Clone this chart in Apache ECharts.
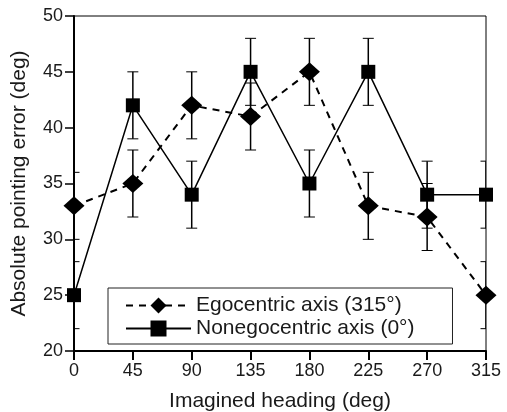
<!DOCTYPE html>
<html>
<head>
<meta charset="utf-8">
<script src="https://cdn.jsdelivr.net/npm/echarts@6/dist/echarts.min.js"></script>
<style>
  html, body { margin: 0; padding: 0; background: #fff; }
  #chart { width: 507px; height: 412px; }
</style>
</head>
<body>
<div id="chart"></div>
<script>
// imagined heading (deg)
const headings = [0, 45, 90, 135, 180, 225, 270, 315]
// absolute pointing error (deg)
const egocentric = [33, 35, 42, 41, 45, 33, 32, 25]
const nonegocentric = [25, 42, 34, 45, 35, 45, 34, 34]
// error bar half-lengths
const egoErr = [3, 3, 3, 3, 3, 3, 3, 3]
const nonegoErr = [3, 3, 3, 3, 3, 3, 3, 3]
const yTicks = [20, 25, 30, 35, 40, 45, 50]

const font = 'Liberation Sans, Arial, sans-serif'
const ink = '#1a1a1a'

const toPairs = vals => headings.map((h, i) => [h, vals[i]])
const toBars = (vals, errs) => headings.map((h, i) => [h, vals[i] - errs[i], vals[i] + errs[i]])

// vertical error bar with caps, placed through the axes
const renderErrorBar = (params, api) => {
  const x = api.value(0)
  const lo = api.coord([x, api.value(1)])
  const hi = api.coord([x, api.value(2)])
  const cap = 5.5
  const style = { stroke: '#000', lineWidth: 1.5 }
  return {
    type: 'group',
    children: [
      { type: 'line', shape: { x1: lo[0], y1: lo[1], x2: hi[0], y2: hi[1] }, style },
      { type: 'line', shape: { x1: hi[0] - cap, y1: hi[1], x2: hi[0] + cap, y2: hi[1] }, style: { stroke: '#000', lineWidth: 1 } },
      { type: 'line', shape: { x1: lo[0] - cap, y1: lo[1], x2: lo[0] + cap, y2: lo[1] }, style: { stroke: '#000', lineWidth: 1 } }
    ]
  }
}

const chart = echarts.init(document.getElementById('chart'))

const option = {
  animation: false,
  backgroundColor: '#fff',
  grid: {
    left: 74, right: 21, top: 16, bottom: 61,
    outerBoundsMode: 'none',
    containLabel: false,
    show: true, borderColor: '#000', borderWidth: 1
  },
  legend: {
    left: 108, top: 288,
    orient: 'vertical',
    borderColor: '#222', borderWidth: 1,
    padding: [7, 38, 5, 17],
    itemWidth: 65, itemHeight: 20, itemGap: 2,
    textStyle: { fontFamily: font, fontSize: 21, color: ink },
    data: [
      { name: 'Egocentric axis (315°)', itemStyle: { color: '#000' } },
      { name: 'Nonegocentric axis (0°)', itemStyle: { color: '#000' } }
    ]
  },
  xAxis: {
    type: 'value',
    min: 0, max: 315, interval: 45,
    name: 'Imagined heading (deg)',
    nameLocation: 'middle', nameGap: 40,
    nameTextStyle: { fontFamily: font, fontSize: 21, color: ink },
    axisLine: { lineStyle: { color: '#000', width: 2 } },
    axisTick: { length: 9, lineStyle: { color: '#000', width: 2 } },
    axisLabel: { fontFamily: font, fontSize: 18, color: ink, margin: 11 },
    splitLine: { show: false }
  },
  yAxis: {
    type: 'value',
    min: yTicks[0], max: yTicks[yTicks.length - 1], interval: 5,
    name: 'Absolute pointing error (deg)',
    nameLocation: 'middle', nameGap: 44,
    nameTextStyle: { fontFamily: font, fontSize: 21, color: ink },
    axisLine: { show: true, lineStyle: { color: '#000', width: 2 } },
    axisTick: { show: true, length: 9, lineStyle: { color: '#000', width: 1.5 } },
    axisLabel: { fontFamily: font, fontSize: 18, color: ink, margin: 11 },
    splitLine: { show: false }
  },
  series: [
    {
      type: 'custom',
      name: 'ego-err',
      renderItem: renderErrorBar,
      data: toBars(egocentric, egoErr),
      encode: { x: 0, y: [1, 2] },
      clip: true,
      z: 1
    },
    {
      type: 'custom',
      name: 'nonego-err',
      renderItem: renderErrorBar,
      data: toBars(nonegocentric, nonegoErr),
      encode: { x: 0, y: [1, 2] },
      clip: true,
      z: 1
    },
    {
      type: 'line',
      name: 'Egocentric axis (315°)',
      data: toPairs(egocentric),
      symbol: 'diamond',
      symbolSize: [21, 19],
      lineStyle: { color: '#000', width: 2, type: [7, 6] },
      itemStyle: { color: '#000' },
      z: 3
    },
    {
      type: 'line',
      name: 'Nonegocentric axis (0°)',
      data: toPairs(nonegocentric),
      symbol: 'rect',
      symbolSize: 14,
      lineStyle: { color: '#000', width: 1.5 },
      itemStyle: { color: '#000' },
      z: 3
    }
  ]
}

chart.setOption(option)
</script>
</body>
</html>
